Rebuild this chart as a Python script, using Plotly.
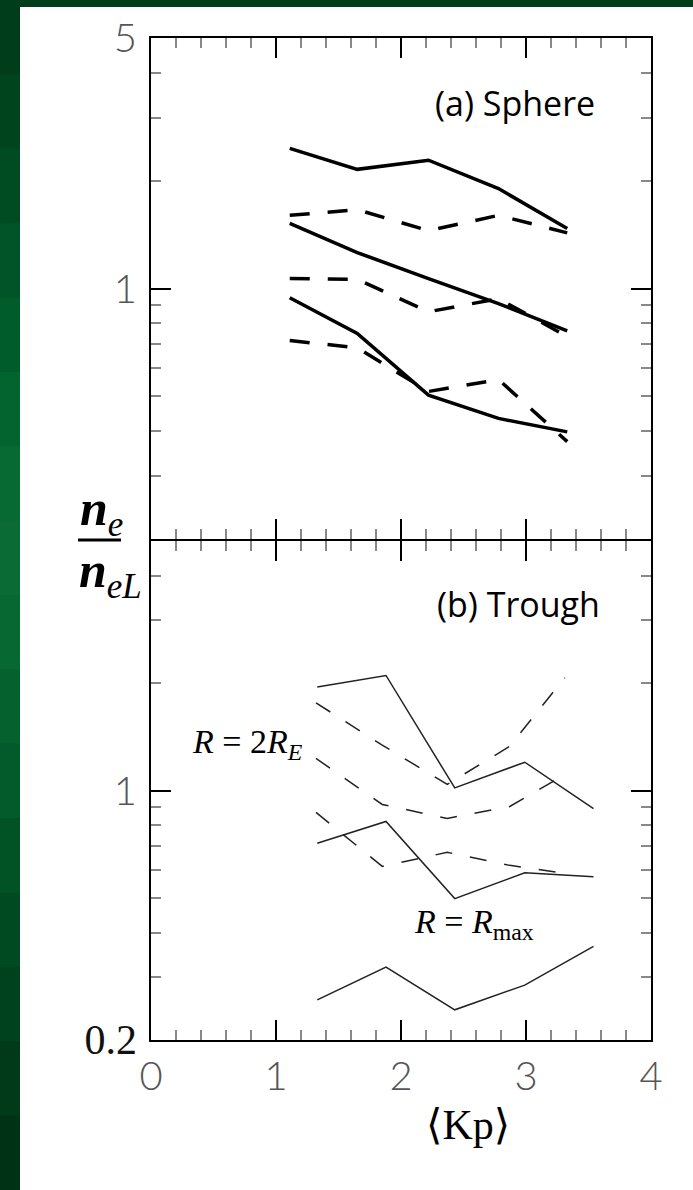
import plotly.graph_objects as go
import math

# ---------------- data ----------------
# Panel (a) Sphere
kp_a = [1.11, 1.65, 2.22, 2.78, 3.33]
sphere_solid_1 = [2.46, 2.15, 2.28, 1.90, 1.47]
sphere_dash_1 = [1.60, 1.66, 1.45, 1.60, 1.43]
sphere_solid_2 = [1.52, 1.26, 1.066, 0.908, 0.762]
sphere_dash_2 = [1.066, 1.06, 0.861, 0.937, 0.734]
sphere_solid_3 = [0.942, 0.749, 0.504, 0.434, 0.398]
sphere_dash_3 = [0.716, 0.683, 0.516, 0.557, 0.374]

# Panel (b) Trough
kp_b_solid = [1.33, 1.88, 2.43, 2.99, 3.54]
kp_b_dash = [1.32, 1.85, 2.37, 2.87, 3.31]
trough_solid_1 = [1.95, 2.10, 1.017, 1.20, 0.889]
trough_solid_2 = [0.712, 0.819, 0.498, 0.588, 0.573]
trough_solid_3 = [0.259, 0.32, 0.243, 0.285, 0.366]
trough_dash_1 = [1.76, 1.34, 1.04, 1.33, 2.07]
trough_dash_2 = [1.23, 0.914, 0.835, 0.902, 1.108]
trough_dash_3 = [0.868, 0.613, 0.671, 0.617, 0.586]

x_major = [0, 1, 2, 3, 4]
x_minor = [0.2, 0.4, 0.6, 0.8, 1.2, 1.4, 1.6, 1.8, 2.2, 2.4, 2.6, 2.8,
           3.2, 3.4, 3.6, 3.8]
y_minor = [0.3, 0.4, 0.5, 0.6, 0.7, 0.8, 0.9, 2, 3, 4]

# ---------------- figure ----------------
W, H = 693, 1190
L, R, T, B = 151, 42, 38, 150
PW, PH = W - L - R, H - T - B


def px(xp):
    return (xp - L) / PW


def py(yp):
    return (H - B - yp) / PH


fig = go.Figure()

thick = 3.5
thin = 1.5
dash_a = "20px,18px"
dash_b = "17px,18px"

for ys, d in [(sphere_solid_1, "solid"), (sphere_dash_1, dash_a),
              (sphere_solid_2, "solid"), (sphere_dash_2, dash_a),
              (sphere_solid_3, "solid"), (sphere_dash_3, dash_a)]:
    fig.add_trace(go.Scatter(x=kp_a, y=ys, mode="lines",
                             line=dict(color="black", width=thick, dash=d),
                             xaxis="x", yaxis="y", showlegend=False,
                             hoverinfo="skip"))

for xs, ys, d in [(kp_b_solid, trough_solid_1, "solid"),
                  (kp_b_solid, trough_solid_2, "solid"),
                  (kp_b_solid, trough_solid_3, "solid"),
                  (kp_b_dash, trough_dash_1, dash_b),
                  (kp_b_dash, trough_dash_2, dash_b),
                  (kp_b_dash, trough_dash_3, dash_b)]:
    fig.add_trace(go.Scatter(x=xs, y=ys, mode="lines",
                             line=dict(color="#222", width=thin, dash=d),
                             xaxis="x2", yaxis="y2", showlegend=False,
                             hoverinfo="skip"))

tickfont = dict(family="Lato", size=40, color="#555", weight=300)

common_x = dict(range=[0, 4], showline=True, linecolor="black", linewidth=2,
                mirror="allticks", ticks="inside", tickmode="array",
                tickvals=x_major, ticklen=20, tickwidth=2, tickcolor="black",
                minor=dict(tickmode="array", tickvals=x_minor, ticks="inside",
                           ticklen=10, tickwidth=2, tickcolor="#888"),
                showgrid=False, zeroline=False, fixedrange=True)
common_y = dict(type="log", range=[math.log10(0.2), math.log10(5)],
                showline=True, linecolor="black", linewidth=2,
                mirror="allticks", ticks="inside", tickmode="array",
                ticklen=20, tickwidth=2, tickcolor="black",
                minor=dict(tickmode="array", tickvals=y_minor, ticks="inside",
                           ticklen=10, tickwidth=2, tickcolor="#888"),
                showgrid=False, zeroline=False, fixedrange=True,
                tickfont=tickfont, ticklabelstandoff=4)

split_a = py(539)
split_b = py(541)

fig.update_layout(
    width=W, height=H,
    margin=dict(l=L, r=R, t=T, b=B),
    paper_bgcolor="white", plot_bgcolor="white",
    xaxis=dict(common_x, anchor="y", showticklabels=False),
    xaxis2=dict(common_x, anchor="y2", showticklabels=True,
                tickfont=tickfont, ticklabelstandoff=0),
    yaxis=dict(common_y, domain=[split_a, 1], anchor="x",
               tickvals=[1, 5], ticktext=["1", "5"]),
    yaxis2=dict(common_y, domain=[0, split_b], anchor="x2",
                tickvals=[0.2, 1],
                ticktext=["<span style='font-family:Liberation Serif;font-weight:400;font-size:42px;color:#111'>0.2</span>", "1"]),
)

# ---------------- background border (green) ----------------
shapes = []
greens = ["#003d1b", "#00441e", "#004c22", "#005427", "#005c2b", "#04642f",
          "#086a33", "#0a6c34", "#086832", "#05612e", "#035a2a", "#015225",
          "#004a21", "#00421d", "#003a19", "#003316"]
n = len(greens)
for i, c in enumerate(greens):
    y0 = i * H / n
    y1 = (i + 1) * H / n + 1
    shapes.append(dict(type="rect", xref="paper", yref="paper",
                       x0=px(0), x1=px(20), y0=py(y1), y1=py(y0),
                       fillcolor=c, line=dict(width=0), layer="below"))
shapes.append(dict(type="rect", xref="paper", yref="paper",
                   x0=px(0), x1=px(W), y0=py(7), y1=py(0),
                   fillcolor="#003d1b", line=dict(width=0), layer="below"))
# fraction bar of the y label
shapes.append(dict(type="line", xref="paper", yref="paper",
                   x0=px(78), x1=px(121), y0=py(540), y1=py(540),
                   line=dict(color="black", width=3)))
fig.update_layout(shapes=shapes)

# ---------------- text ----------------
def note(text, xp, yp, family, size, color="black"):
    return dict(text=text, x=px(xp), y=py(yp), xref="paper", yref="paper",
                xanchor="center", yanchor="middle", showarrow=False,
                font=dict(family=family, size=size, color=color))


ann = [
    note("(a) Sphere", 515, 103, "Open Sans", 34),
    note("(b) Trough", 518, 604, "Open Sans", 34),
    note("<i>R</i> = 2<i>R</i><sub><i>E</i></sub>", 247, 744,
         "Liberation Serif", 34),
    note("<i>R</i> = <i>R</i><sub>max</sub>", 474, 924,
         "Liberation Serif", 34),
    note("<b><i>n</i></b><sub><i>e</i></sub>", 101, 512,
         "Liberation Serif", 50),
    note("<b><i>n</i></b><sub><i>eL</i></sub>", 110, 574,
         "Liberation Serif", 50),
    note("\u27e8Kp\u27e9", 468, 1125, "Liberation Serif, DejaVu Serif", 42),
]
fig.update_layout(annotations=ann)

fig.write_html("out.html")
